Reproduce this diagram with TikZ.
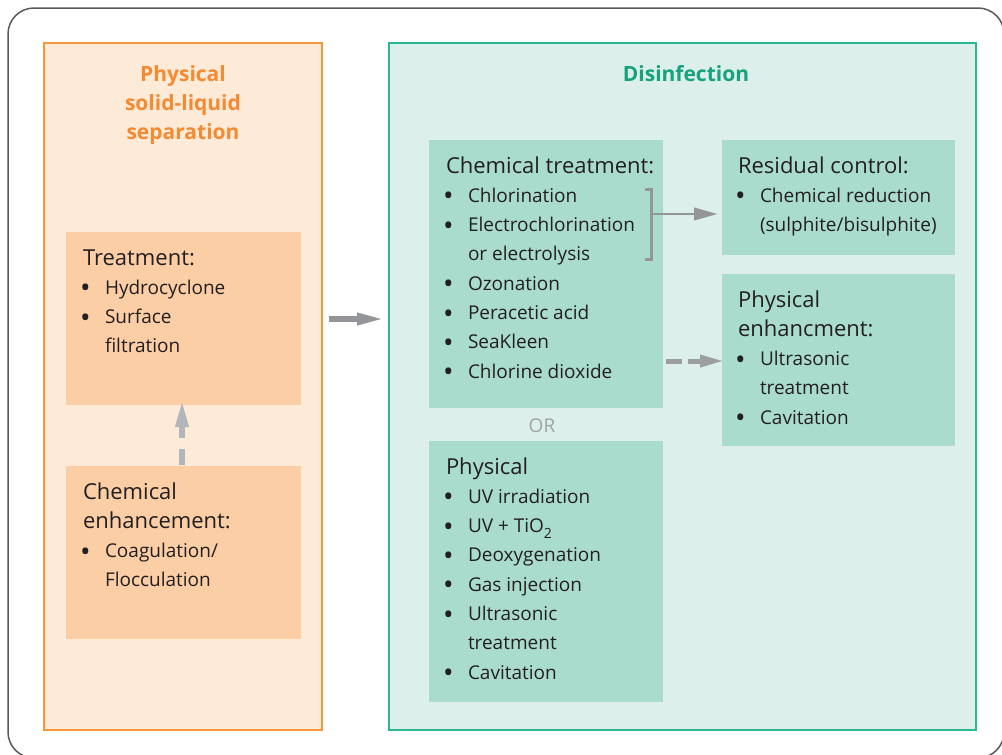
\documentclass[tikz,border=0pt]{standalone}
\usepackage{fontspec}
\setmainfont{Open Sans}
\usetikzlibrary{arrows.meta,calc}
\definecolor{frameC}{HTML}{58595B}
\definecolor{orBorder}{HTML}{F7963A}
\definecolor{orPanel}{HTML}{FDEAD7}
\definecolor{orBox}{HTML}{FBCEA6}
\definecolor{orTitle}{HTML}{F48A32}
\definecolor{grBorder}{HTML}{2BB794}
\definecolor{grPanel}{HTML}{DDEFEA}
\definecolor{grBox}{HTML}{AADCCE}
\definecolor{grTitle}{HTML}{16A37C}
\definecolor{txtC}{HTML}{231F20}
\definecolor{arrGray}{HTML}{939598}
\definecolor{dashGray}{HTML}{9C9EA1}
\definecolor{lightGray}{HTML}{B2B5BA}
\definecolor{orGray}{HTML}{A0A2A4}
\setlength\parskip{0pt}
\newcommand\hd[1]{{\fontsize{22}{29.3}\selectfont #1\par}}
\newcommand\bigbul{\makebox[22pt][l]{\hspace{-3pt}\raisebox{-3.5pt}{\fontsize{28}{0}\selectfont\textbullet}}}
\newcommand\bl[1]{{\leftskip=22pt\noindent\hspace{-22pt}\bigbul#1\par}}
\newcommand\tb[1]{\parbox[t]{240pt}{\raggedright\fontsize{19}{29.3}\selectfont #1}}
\newcommand\subtwo{\raisebox{-6pt}{\fontsize{14}{0}\selectfont 2}}
\begin{document}
\begin{tikzpicture}[x=1pt,y=-1pt,
  panel/.style={draw, line width=1.5pt, inner sep=0pt, outer sep=0pt, anchor=north west},
  box/.style={inner sep=0pt, outer sep=0pt, anchor=north west},
  txt/.style={inner sep=0pt, outer sep=0pt, anchor=base west, text=txtC},
  ttl/.style={inner sep=0pt, outer sep=0pt, anchor=base, font=\bfseries\fontsize{21}{29.2}\selectfont},
  bigarrow/.style={draw=arrGray, line width=5.5pt, -{Triangle[length=24pt,width=13pt,line width=0.4pt]}},
  dasharrow/.style={draw=dashGray, line width=5pt, dash pattern=on 16pt off 6pt, -{Triangle[length=22pt,width=13pt,line width=0.4pt]}},
  uparrow/.style={draw=lightGray, line width=5.5pt, dash pattern=on 16pt off 11pt, -{Triangle[length=24pt,width=14pt,line width=0.4pt]}},
  thinarrow/.style={draw=arrGray, line width=2.5pt, -{Triangle[length=23pt,width=13pt,line width=0.4pt]}},
  bracket/.style={draw=arrGray, line width=3pt, miter limit=10}
]
\useasboundingbox (0,0) rectangle (1002,755);
\clip (0,0) rectangle (1002,755);
\draw[frameC, line width=1.5pt, rounded corners=26pt] (8,8) rectangle (1004,758);

% panels
\node[panel, draw=orBorder, fill=orPanel, minimum width=278pt, minimum height=687pt] (left) at (44,43) {};
\node[panel, draw=grBorder, fill=grPanel, minimum width=587pt, minimum height=687pt] (green) at (389,43) {};

% titles
\node[ttl, text=orTitle] (lt) at (183,81) {\parbox[t]{260pt}{\centering Physical\\solid-liquid\\separation}};
\node[ttl, text=grTitle] (gt) at (686,81) {Disinfection};

% boxes
\node[box, fill=orBox, minimum width=235pt, minimum height=173pt] (tr) at (66,232) {};
\node[box, fill=orBox, minimum width=235pt, minimum height=173pt] (ce) at (66,466) {};
\node[box, fill=grBox, minimum width=234pt, minimum height=268pt] (chem) at (429,140) {};
\node[box, fill=grBox, minimum width=234pt, minimum height=261pt] (phys) at (429,441) {};
\node[box, fill=grBox, minimum width=233pt, minimum height=115pt] (res) at (722,140) {};
\node[box, fill=grBox, minimum width=233pt, minimum height=172pt] (pe) at (722,274) {};

% texts
\node[txt] (trt) at ([shift={(17,33)}]tr.north west) {\tb{\hd{Treatment:}\bl{Hydrocyclone}\bl{Surface\\filtration}}};
\node[txt] (cet) at ([shift={(17,33)}]ce.north west) {\tb{\hd{Chemical\\enhancement:}\bl{Coagulation/\\Flocculation}}};
\node[txt] (chemt) at ([shift={(17,33)}]chem.north west) {\tb{\hd{Chemical treatment:}\bl{Chlorination}\bl{Electrochlorination\\or electrolysis}\bl{Ozonation}\bl{Peracetic acid}\bl{SeaKleen}\bl{Chlorine dioxide}}};
\node[txt] (physt) at ([shift={(17,33)}]phys.north west) {\tb{\hd{Physical}\bl{UV irradiation}\bl{UV + TiO\subtwo}\bl{Deoxygenation}\bl{Gas injection}\bl{Ultrasonic\\treatment}\bl{Cavitation}}};
\node[txt] (rest) at ([shift={(16,33)}]res.north west) {\tb{\hd{Residual control:}\bl{Chemical reduction\\(sulphite/bisulphite)}}};
\node[txt] (pet) at ([shift={(16,33)}]pe.north west) {\tb{\hd{Physical\\enhancment:}\bl{Ultrasonic\\treatment}\bl{Cavitation}}};
\node[inner sep=0pt, anchor=base, text=orGray, font=\fontsize{19}{23}\selectfont] (or) at (542,432) {OR};

% connectors
\coordinate (my) at (0,319);
\draw[bigarrow] ([xshift=7pt]left.east |- my) -- ([xshift=-8pt]green.west |- my);
\draw[uparrow] ([xshift=-1.5pt,yshift=1pt]ce.north) -- ([xshift=-1.5pt,yshift=2pt]tr.south);
\coordinate (dy) at (0,361);
\draw[dasharrow] ([xshift=3pt]chem.east |- dy) -- (pe.west |- dy);
\draw[bracket] (645,189.8) -- (651,189.8) -- (651,259.2) -- (645,259.2);
\coordinate (brk) at (652.5,214);
\draw[thinarrow] (brk) -- ([xshift=-5pt]res.west |- brk);
\end{tikzpicture}
\end{document}
